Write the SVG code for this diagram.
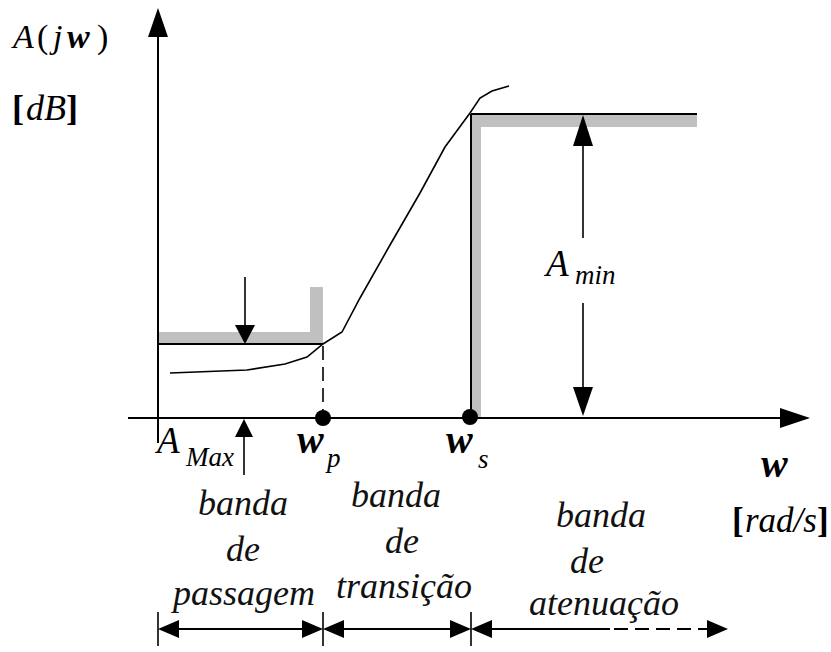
<svg xmlns="http://www.w3.org/2000/svg" width="831" height="652" viewBox="0 0 831 652">
<style>
.ln{stroke:#000;stroke-width:2;fill:none}
.thin{stroke:#000;stroke-width:1.6;fill:none}
.dash{stroke:#000;stroke-width:1.6;fill:none;stroke-dasharray:14 7}
.ah{fill:#000}
.gr{fill:#c0c0c0}
text{font-family:'Liberation Serif','DejaVu Serif',serif;fill:#000}
.it{font-style:italic}
.bi{font-style:italic;font-weight:bold}
.bd{font-weight:bold}
.sub{font-style:italic;font-size:27px}
.band{font-style:italic;font-size:36px;text-anchor:middle;fill:#111}
</style>
<rect width="831" height="652" fill="#fff"/>

<g id="passband-spec">
  <rect class="gr" x="158" y="332" width="165" height="12"/>
  <rect class="gr" x="310" y="287" width="13" height="57"/>
  <line class="ln" x1="158" y1="344" x2="323" y2="344"/>
</g>

<g id="stopband-spec">
  <rect class="gr" x="471" y="114" width="226" height="13"/>
  <rect class="gr" x="471" y="114" width="10" height="304"/>
  <line class="ln" x1="471" y1="114" x2="697" y2="114"/>
  <line class="ln" x1="471" y1="114" x2="471" y2="418"/>
</g>

<g id="response-curve">
  <polyline class="thin" points="170,373 247,370 285,364 307,357 323,344 342,332 360,298 390,245 420,193 445,147 470,113 480,98 492,91 509,86"/>
</g>

<g id="axes">
  <line class="ln" x1="158" y1="36" x2="158" y2="443"/>
  <polygon class="ah" points="158,8 148,37 168,37"/>
  <line class="ln" x1="128" y1="418" x2="782" y2="418"/>
  <polygon class="ah" points="810,418 780,408 780,428"/>
</g>

<g id="connectors">
  <line class="dash" x1="323" y1="346" x2="323" y2="418"/>
  <line class="thin" x1="245" y1="277" x2="245" y2="326"/>
  <polygon class="ah" points="245,344 235,325 255,325"/>
  <line class="thin" x1="244" y1="436" x2="244" y2="475"/>
  <polygon class="ah" points="244,419 235,437 253,437"/>
  <polygon class="ah" points="583,115 573,146 593,146"/>
  <line class="thin" x1="583" y1="145" x2="583" y2="238"/>
  <line class="thin" x1="583" y1="303" x2="583" y2="388"/>
  <polygon class="ah" points="583,416 573,387 593,387"/>
  <line class="thin" x1="158" y1="612" x2="158" y2="646"/>
  <line class="thin" x1="323" y1="612" x2="323" y2="646"/>
  <line class="thin" x1="471" y1="612" x2="471" y2="646"/>
  <line class="ln" x1="170" y1="629" x2="312" y2="629"/>
  <polygon class="ah" points="158,629 179,620 179,638"/>
  <polygon class="ah" points="323,629 302,620 302,638"/>
  <line class="ln" x1="335" y1="629" x2="460" y2="629"/>
  <polygon class="ah" points="323,629 344,620 344,638"/>
  <polygon class="ah" points="471,629 450,620 450,638"/>
  <line class="ln" x1="485" y1="629" x2="610" y2="629"/>
  <polygon class="ah" points="471,629 492,620 492,638"/>
  <line class="dash" x1="614" y1="629" x2="708" y2="629" style="stroke-width:2"/>
  <polygon class="ah" points="728,629 707,620 707,638"/>
</g>

<g id="points">
  <circle cx="323" cy="418" r="8" fill="#000"/>
  <circle cx="470" cy="417" r="8" fill="#000"/>
</g>

<g id="y-label">
  <text y="48" font-size="34"><tspan class="it" x="13">A</tspan><tspan x="37">(</tspan><tspan class="it" x="53">j</tspan><tspan class="bi" x="67">w</tspan><tspan x="97">)</tspan></text>
  <text y="120" font-size="36"><tspan class="bd" x="12">[</tspan><tspan class="it" x="26">dB</tspan><tspan class="bd" x="66">]</tspan></text>
</g>

<g id="x-label">
  <text class="bi" x="761" y="477" font-size="40">w</text>
  <text y="532" font-size="35"><tspan class="bd" x="732">[</tspan><tspan class="it" x="745">rad/s</tspan><tspan class="bd">]</tspan></text>
</g>

<g id="label-Amax">
  <text class="it" x="157" y="453" font-size="37">A</text>
  <text class="sub" x="186" y="466">Max</text>
</g>

<g id="label-Amin">
  <text class="it" x="546" y="276" font-size="37">A</text>
  <text class="sub" x="575" y="284">min</text>
</g>

<g id="label-wp">
  <text class="bi" x="297" y="453" font-size="40">w</text>
  <text class="sub" x="327" y="467">p</text>
</g>

<g id="label-ws">
  <text class="bi" x="446" y="453" font-size="40">w</text>
  <text class="sub" x="478" y="468">s</text>
</g>

<g id="band-passagem">
  <text class="band" x="243" y="515">banda</text>
  <text class="band" x="243" y="561">de</text>
  <text class="band" x="244" y="605">passagem</text>
</g>

<g id="band-transicao">
  <text class="band" x="396" y="507">banda</text>
  <text class="band" x="402" y="553">de</text>
  <text class="band" x="404" y="598">transição</text>
</g>

<g id="band-atenuacao">
  <text class="band" x="601" y="527">banda</text>
  <text class="band" x="587" y="573">de</text>
  <text class="band" x="604" y="615">atenuação</text>
</g>
</svg>
